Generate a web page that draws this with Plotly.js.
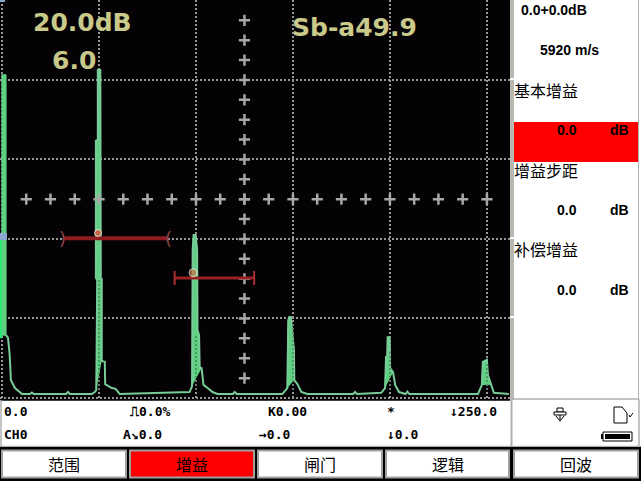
<!DOCTYPE html>
<html><head><meta charset="utf-8">
<script src="https://cdn.plot.ly/plotly-3.0.1.min.js"></script>
<style>html,body{margin:0;padding:0;background:#fff;overflow:hidden}</style>
</head><body><div id="chart" style="width:641px;height:481px"></div>
<script>
// A-scan echo envelope: sound path (mm) and amplitude (%)
const pulse0X = [2.1,3.1,3.9,4.6,6.7,10.3];
const pulse0Y = [15.8,15.1,11.3,4.5,2.5,1];
const pulseStemX = [-0.3,2.1,2.1,-0.3];
const pulseStemY = [81.3,81.3,15.8,15.8];
const gapA_X = [14.4,15.4,16.4,33,34,35];
const gapA_Y = [1,1.4,1,1,1.5,1];
const echo1X = [46.3,47.8,48.6,49.1,48.4,48.4,49.4,49.4,50.7,50.9,50.9,51.4,51.4,53,53.2,56.6,58.6,60.7];
const echo1Y = [1,1.5,2,29.7,30.2,64.7,64.9,82.5,82.5,49.8,29.9,29.9,9.3,9.1,3.5,2.5,2.3,1];
const echo2X = [96.7,98,98.3,98.8,99.8,100.6,100.8,101.6,101.9,102.9,103.9,106,108.5,111.1];
const echo2Y = [1.5,3,37.2,41,41,37.2,17.1,15.8,7.8,7.5,3.3,2.5,1.5,1];
const gapB_X = [119,120,121];
const gapB_Y = [1,1.5,1];
const echo3X = [144.5,147.1,147.6,148.1,148.9,150.5,150.7,152.3,154.3,157.4];
const echo3Y = [1,2.5,19.6,20.4,20.4,12.1,4.5,3.5,1.5,1];
const gapC_X = [181,182,183];
const gapC_Y = [1,1.5,1];
const echo4X = [195.5,197.5,198,198.6,198.8,199.8,200.1,201.6,202.7,204.7,207.8];
const echo4Y = [1.3,2.5,10.3,10.3,15.3,15.3,7.5,6.5,3.3,1.5,1];
const gapD_X = [208,209,210];
const gapD_Y = [1,1.6,1];
const echo5X = [245.4,247.4,247.9,250,250.5,252,253.6,261.3];
const echo5Y = [1,3.3,9.1,9.6,5.8,3.3,1.3,1];
const waveX = [...pulse0X,...gapA_X,...echo1X,...echo2X,...gapB_X,...echo3X,...gapC_X,...echo4X,...gapD_X,...echo5X];
const waveY = [...pulse0Y,...gapA_Y,...echo1Y,...echo2Y,...gapB_Y,...echo3Y,...gapC_Y,...echo4Y,...gapD_Y,...echo5Y];
const edgeX = [-0.6,-0.6];
const edgeY = [15,40];
// Centre graticule crosses
const rowX = [12.5,25,37.5,50,62.5,75,87.5,100,112.5,125,137.5,150,162.5,175,187.5,200,212.5,225,237.5,250];
const rowY = [50,50,50,50,50,50,50,50,50,50,50,50,50,50,50,50,50,50,50,50];
const colX = [125,125,125,125,125,125,125,125,125,125,125,125,125,125,125,125,125,125,125];
const colY = [95,90,85,80,75,70,65,60,55,50,45,40,35,30,25,20,15,10,5];
// Gates
const gateAX = [31.4,85.6];
const gateAY = [40.2,40.2];
const gateBX = [89,130];
const gateBY = [30.2,30.2];
const echoMarkX = [49.5,98.5];
const echoMarkY = [41.5,31.5];
// Dotted graticule seen through the echoes
const combX = [50,50,null,100,100,null,150,150,null,200,200,null,250,250];
const combY = [2,30,null,2,16,null,2,19,null,2,12,null,2,9];
// Text
const gainText = '20.0dB';
const stepText = '6.0';
const readoutText = 'Sb-a49.9';
const sideLabels = ['基本增益','增益步距','补偿增益'];
const sideValues = ['0.0','0.0','0.0'];
const sideUnit = 'dB';
const sideTop = '0.0+0.0dB';
const velocity = '5920 m/s';
const menu = ['范围','增益','闸门','逻辑','回波'];
const infoRow1 = ['0.0','⎍0.0%','K0.00','*','↓250.0'];
const infoRow2 = ['CH0','A↘0.0','→0.0','↓0.0'];

const W=510,H=400;
const fx=p=>p/W, fy=p=>1-p/H;
const rect=(x0,y0,x1,y1,fill,line,lw)=>({type:'rect',xref:'paper',yref:'paper',layer:'above',
  x0:fx(x0),x1:fx(x1),y0:fy(y1),y1:fy(y0),fillcolor:fill,line:{color:line||fill,width:line?(lw||1):0}});
const seg=(x0,y0,x1,y1,c,lw)=>({type:'line',xref:'paper',yref:'paper',layer:'above',
  x0:fx(x0),x1:fx(x1),y0:fy(y0),y1:fy(y1),line:{color:c,width:lw||1}});
const label=(t,x,y,o)=>Object.assign({xref:'paper',yref:'paper',x:fx(x),y:fy(y),text:t,showarrow:false,
  xanchor:'left',yanchor:'middle',borderpad:0,
  font:{family:'"DejaVu Sans Mono"',size:13,color:'#000',weight:700}},o||{});
const cjk={family:'"Noto Sans CJK SC"',size:16,color:'#000'};
const sideF={family:'"Liberation Sans"',size:14,color:'#000',weight:700};
const bigF={family:'"DejaVu Sans"',size:25,color:'#c9c98a',weight:700};

const shapes=[
  rect(510,0,514,400,'#b8b8b0'),
  seg(638.5,0,638.5,400,'#b0b0b0',1),
  rect(514,122,638,162,'#ff0000'),
  rect(0,0,5,2,'#8aa8d0'),
  rect(0,233,7,240,'#8aa8d0'),
  rect(510,78,514,80,'#ffffff'),
  rect(510,237,514,239,'#ffffff'),
  rect(510,316,514,318,'#ffffff'),
  rect(0,400,641,447,'#ffffff'),
  seg(0,400.5,510,400.5,'#404040',1),
  seg(1,400,1,447,'#b0b0b0',1.5),
  seg(511.5,399,511.5,447,'#b0b0b0',2),
  seg(512,399,639,399,'#b0b0b0',1.5),
  seg(639,399,639,447,'#b0b0b0',1.5),
  seg(0,446.5,641,446.5,'#b0b0b0',1.5),
  rect(0,447,641,481,'#000000'),
  rect(2,450.5,126,477.5,'#ffffff','#a0a0a0',2),
  rect(130,450.5,254,477.5,'#ff0000','#a0a0a0',2),
  rect(258,450.5,382,477.5,'#ffffff','#a0a0a0',2),
  rect(386,450.5,509,477.5,'#ffffff','#a0a0a0',2),
  rect(514,450.5,638,477.5,'#ffffff','#a0a0a0',2),
  // probe icon
  rect(557,408,563,412,'#ffffff','#000',1),
  rect(554,412,566,415,'#ffffff','#000',1),
  seg(560,415,560,421,'#000',1),
  seg(556,416,560,421,'#000',1),
  seg(564,416,560,421,'#000',1),
  // document icon
  {type:'path',xref:'paper',yref:'paper',layer:'above',line:{color:'#000',width:1},
   path:`M ${fx(614)} ${fy(407)} L ${fx(622)} ${fy(407)} L ${fx(627)} ${fy(413)} L ${fx(627)} ${fy(423)} L ${fx(614)} ${fy(423)} Z`},
  seg(629,415,630,417,'#000',1), seg(630,417,633,413,'#000',1),
  // battery
  rect(601,434,603,439,'#000000'),
  rect(603,432,632,441,'#ffffff','#000000',1),
  rect(605,434,630,439,'#000000')
];

const annotations=[
  label(gainText,32,22,{font:bigF}),
  label(stepText,51,60,{font:bigF}),
  label(readoutText,291,27,{font:bigF}),
  label(sideTop,520,10,{font:sideF}),
  label(velocity,539,50,{font:sideF}),
  label(sideLabels[0],513,90,{font:cjk}),
  label(sideLabels[1],513,170,{font:cjk}),
  label(sideLabels[2],513,249,{font:cjk}),
  label(sideValues[0],556,130,{font:sideF}),
  label(sideValues[1],556,210,{font:sideF}),
  label(sideValues[2],556,290,{font:sideF}),
  label(sideUnit,609,130,{font:sideF}),
  label(sideUnit,609,210,{font:sideF}),
  label(sideUnit,609,290,{font:sideF}),
  label(infoRow1[0],3,411), label(infoRow1[1],129,411), label(infoRow1[2],267,411),
  label(infoRow1[3],386,411), label(infoRow1[4],449,411),
  label(infoRow2[0],3,435), label(infoRow2[1],122,435), label(infoRow2[2],258,435), label(infoRow2[3],386,435),
  {xref:'x',yref:'y',x:gateAX[0],y:gateAY[0],text:')',showarrow:false,font:{family:'"DejaVu Sans"',size:18,color:'#8a4444'}},
  {xref:'x',yref:'y',x:gateAX[1],y:gateAY[1],text:'(',showarrow:false,font:{family:'"DejaVu Sans"',size:18,color:'#8a4444'}}
];
[64,192,320,448,576].forEach((c,i)=>annotations.push(label(menu[i],c,464,{font:cjk,xanchor:'center'})));

// Filled stems: the tall part of each echo, taken from its own readings; the tails stay hollow
const stem=(xs,ys,a,b)=>[xs.slice(a,b),ys.slice(a,b)];
const stems=[stem(echo1X,echo1Y,2,13),stem(echo2X,echo2Y,1,10),stem(echo3X,echo3Y,1,7),stem(echo4X,echo4Y,1,8),stem(echo5X,echo5Y,1,6)];
const stemTraces=stems.map(([x,y])=>({x,y,mode:'lines',fill:'toself',fillcolor:'#5fd080',line:{color:'#62cc84',width:1},hoverinfo:'skip'}));

const crossM={symbol:'cross-thin',size:8,line:{color:'#a8a8a8',width:2.5}};
const data=[
  {x:edgeX,y:edgeY,mode:'lines',line:{color:'#20f070',width:2.5},hoverinfo:'skip'},
  {x:pulseStemX,y:pulseStemY,mode:'lines',fill:'toself',fillcolor:'#5fd080',line:{color:'#62cc84',width:1},hoverinfo:'skip'},
  ...stemTraces,
  {x:waveX,y:waveY,mode:'lines',line:{color:'#78cc98',width:2},hoverinfo:'skip'},
  {x:combX,y:combY,mode:'lines',line:{color:'rgba(30,70,45,0.5)',width:1.5,dash:'2px,2px'},hoverinfo:'skip'},
  {x:rowX,y:rowY,mode:'markers',marker:crossM,hoverinfo:'skip'},
  {x:colX,y:colY,mode:'markers',marker:crossM,hoverinfo:'skip'},
  {x:gateAX,y:gateAY,mode:'lines',line:{color:'#8e1c20',width:4},hoverinfo:'skip'},
  {x:gateBX,y:gateBY,mode:'lines',line:{color:'#9a2024',width:3},hoverinfo:'skip'},
  {x:gateBX,y:gateBY,mode:'markers',marker:{symbol:'line-ns',size:10,line:{color:'#a83030',width:2}},hoverinfo:'skip'},
  {x:echoMarkX,y:echoMarkY,mode:'markers',marker:{symbol:'circle',size:[7,8],color:['#f04030','#c87040']},hoverinfo:'skip'}
];

const layout={
  width:641,height:481,showlegend:false,
  margin:{l:0,r:131,t:0,b:81,pad:0},
  paper_bgcolor:'#ffffff',plot_bgcolor:'#050205',
  xaxis:{range:[-1.03,261.9],dtick:50,tick0:0,showgrid:true,griddash:'2px,2px',gridcolor:'#969696',gridwidth:2,
    zeroline:false,showticklabels:false,ticks:'',showline:false,fixedrange:true},
  yaxis:{range:[-0.5,100.1],dtick:20,tick0:0,showgrid:true,griddash:'2px,2px',gridcolor:'#969696',gridwidth:2,
    zeroline:false,showticklabels:false,ticks:'',showline:false,fixedrange:true},
  shapes,annotations
};
Plotly.newPlot('chart',data,layout,{displayModeBar:false,staticPlot:true});
</script></body></html>
